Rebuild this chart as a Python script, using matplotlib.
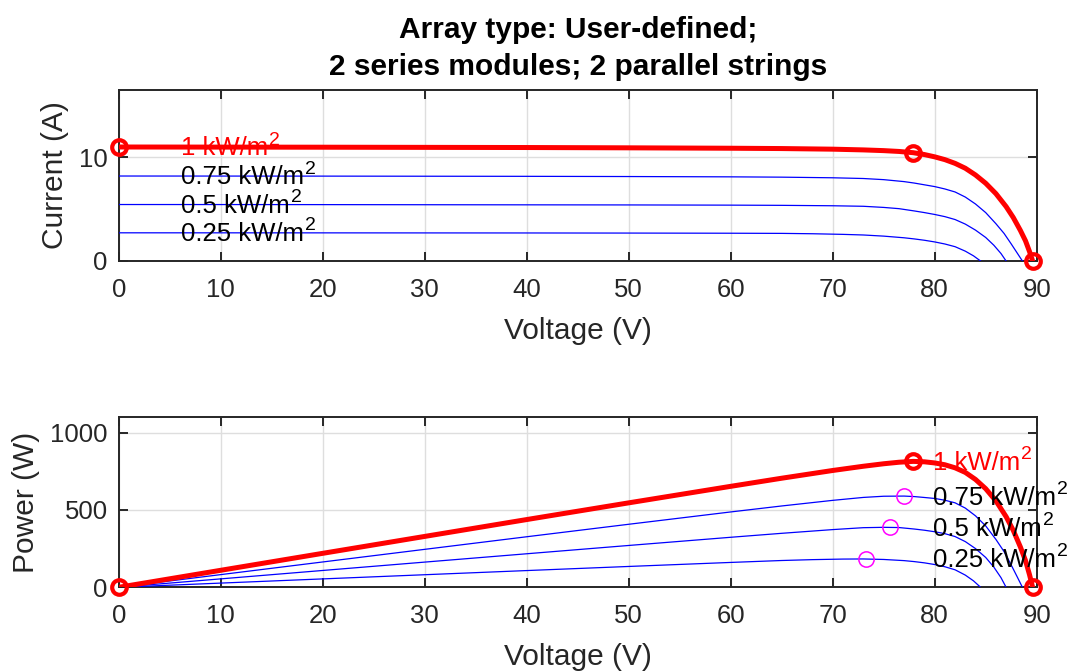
import matplotlib
matplotlib.use("Agg")
import matplotlib.pyplot as plt

plt.rcParams['font.family'] = ['Liberation Sans', 'DejaVu Sans']

# ---------------- data ----------------
title_lines = ["Array type: User-defined;", "2 series modules; 2 parallel strings"]
irr_labels = ["1 kW/m", "0.75 kW/m", "0.5 kW/m", "0.25 kW/m"]
irr_sup = "2"

# 1 kW/m2
v_100 = [0, 10, 20, 30, 40, 50, 60, 65, 70, 73, 75, 76.5, 77.9, 79, 80, 81, 82, 83, 84, 85,
         86, 87, 87.7, 88.4, 88.9, 89.3, 89.6]
i_100 = [11.0, 10.99, 10.98, 10.965, 10.95, 10.92, 10.88, 10.85, 10.79, 10.72, 10.65, 10.57,
         10.45, 10.27, 10.05, 9.78, 9.42, 8.95, 8.3, 7.5, 6.5, 5.25, 4.2, 2.95, 1.95, 0.9, 0]
p_100 = [0, 109.9, 219.6, 328.95, 438.0, 546.0, 652.8, 705.25, 755.3, 782.56, 798.75, 808.6,
         814.1, 811.3, 804.0, 792.2, 772.4, 742.9, 697.2, 637.5, 559.0, 456.75, 368.3, 260.8,
         173.4, 80.4, 0]

# 0.75 kW/m2
v_075 = [0, 10, 20, 30, 40, 50, 60, 65, 70, 73, 75, 77, 78, 79, 80, 81, 82, 83, 84, 85, 86,
         86.8, 87.5, 88.1, 88.6]
i_075 = [8.2, 8.195, 8.19, 8.18, 8.17, 8.15, 8.12, 8.09, 8.03, 7.96, 7.85, 7.66, 7.52, 7.35,
         7.18, 6.95, 6.66, 6.17, 5.5, 4.67, 3.6, 2.66, 1.65, 0.75, 0]
p_075 = [0, 81.95, 163.8, 245.4, 326.8, 407.5, 487.2, 525.85, 562.1, 581.08, 588.75, 589.82,
         586.56, 580.65, 574.4, 562.95, 546.12, 512.11, 462.0, 396.95, 309.6, 230.89, 144.38,
         66.08, 0]

# 0.5 kW/m2
v_050 = [0, 10, 20, 30, 40, 50, 60, 65, 70, 73, 75, 76.5, 78, 79, 80, 81, 82, 83, 84, 85,
         85.8, 86.5, 87.0]
i_050 = [5.45, 5.447, 5.44, 5.43, 5.42, 5.41, 5.39, 5.37, 5.33, 5.28, 5.17, 5.05, 4.83, 4.67,
         4.49, 4.28, 4.0, 3.56, 2.98, 2.27, 1.52, 0.72, 0]
p_050 = [0, 54.47, 108.8, 162.9, 216.8, 270.5, 323.4, 349.05, 373.1, 385.44, 387.75, 386.33,
         376.74, 368.93, 359.2, 346.68, 328.0, 295.48, 250.32, 192.95, 130.42, 62.28, 0]

# 0.25 kW/m2
v_025 = [0, 10, 20, 30, 40, 50, 60, 65, 68, 71, 73, 75, 77, 78, 79, 80, 81, 82, 83, 83.8, 84.5]
i_025 = [2.72, 2.718, 2.715, 2.71, 2.705, 2.695, 2.68, 2.665, 2.63, 2.57, 2.51, 2.4, 2.24,
         2.13, 2.0, 1.84, 1.64, 1.38, 0.95, 0.5, 0]
p_025 = [0, 27.18, 54.3, 81.3, 108.2, 134.75, 160.8, 173.23, 178.84, 182.47, 183.23, 180.0,
         172.48, 166.14, 158.0, 147.2, 132.84, 113.16, 78.85, 41.9, 0]

# key points of the 1 kW/m2 curve: Isc, MPP, Voc
red_pts_v = [0, 77.9, 89.6]
red_pts_i = [11.0, 10.45, 0]
red_pts_p = [0, 814.1, 0]

# MPPs of the lower irradiance curves
mpp_v = [77.0, 75.6, 73.3]
mpp_p = [589.8, 387.8, 183.3]

isc_vals = [11.0, 8.2, 5.45, 2.72]
pmp_vals = [814.1, 589.8, 387.8, 183.3]

x_ticks = [0, 10, 20, 30, 40, 50, 60, 70, 80, 90]
i_ticks = [0, 10]
p_ticks = [0, 500, 1000]

# ---------------- figure ----------------
W, H = 1071, 671
fig = plt.figure(figsize=(W / 100, H / 100), dpi=100)
dark = '#262626'
grid_c = '#dedede'

ax1 = fig.add_axes([118.7 / W, 1 - 261 / H, 918 / W, 171 / H])
ax2 = fig.add_axes([118.7 / W, 1 - 587.3 / H, 918 / W, 170.6 / H])

red_lw = 3.6
blue_lw = 0.9

curves_i = [(v_075, i_075), (v_050, i_050), (v_025, i_025)]
curves_p = [(v_075, p_075), (v_050, p_050), (v_025, p_025)]

for v, i in curves_i:
    ax1.plot(v, i, color='#0000ff', lw=blue_lw, zorder=3)
ax1.plot(v_100, i_100, color='#ff0000', lw=red_lw, zorder=4, solid_joinstyle='round')
ax1.plot(red_pts_v, red_pts_i, 'o', ms=10.5, mfc='none', mec='#ff0000', mew=3.0, zorder=5, clip_on=False)

for v, p in curves_p:
    ax2.plot(v, p, color='#0000ff', lw=blue_lw, zorder=3)
ax2.plot(v_100, p_100, color='#ff0000', lw=red_lw, zorder=4, solid_joinstyle='round')
ax2.plot(red_pts_v, red_pts_p, 'o', ms=10.5, mfc='none', mec='#ff0000', mew=3.0, zorder=5, clip_on=False)
ax2.plot(mpp_v, mpp_p, 'o', ms=11, mfc='none', mec='#ff00ff', mew=1.1, zorder=5)

txt_fs = 18.5
sup_fs = 14


def label(ax, x, y, body, col):
    t = ax.annotate(body, xy=(x, y), xycoords='data', xytext=(0, -0.33 * txt_fs),
                    textcoords='offset points', color=col, fontsize=txt_fs,
                    ha='left', va='baseline', zorder=6, annotation_clip=False)
    ax.annotate(irr_sup, xy=(1, 0), xycoords=t, xytext=(0.8, 0.62 * txt_fs),
                textcoords='offset points', color=col, fontsize=sup_fs,
                ha='left', va='baseline', zorder=6, annotation_clip=False)


for k, lab in enumerate(irr_labels):
    col = '#ff0000' if k == 0 else 'black'
    label(ax1, 6.1, isc_vals[k], lab, col)
    label(ax2, 79.8, pmp_vals[k], lab, col)

for ax, yt, ylim in [(ax1, i_ticks, (0, 16.5)), (ax2, p_ticks, (0, 1103))]:
    ax.set_xlim(0, 90)
    ax.set_ylim(*ylim)
    ax.set_xticks(x_ticks)
    ax.set_yticks(yt)
    ax.grid(True, color=grid_c, lw=1.0, zorder=0)
    ax.set_axisbelow(True)
    ax.tick_params(direction='in', top=True, right=True, length=6.5, width=1.4,
                   colors=dark, labelsize=18.5)
    ax.tick_params(axis='x', pad=12)
    ax.tick_params(axis='y', pad=8)
    for s in ax.spines.values():
        s.set_color(dark)
        s.set_linewidth(1.4)
    ax.set_xlabel('Voltage (V)', fontsize=21.5, color=dark, labelpad=11)

ax1.set_ylabel('Current (A)', fontsize=21.5, color=dark, labelpad=7)
ax2.set_ylabel('Power (W)', fontsize=21.5, color=dark, labelpad=7)

ax1.set_title(title_lines[0] + "\n" + title_lines[1], fontsize=21.5, fontweight='bold',
              color='black', pad=11, linespacing=1.4)

fig.savefig('out.png', dpi=100)
